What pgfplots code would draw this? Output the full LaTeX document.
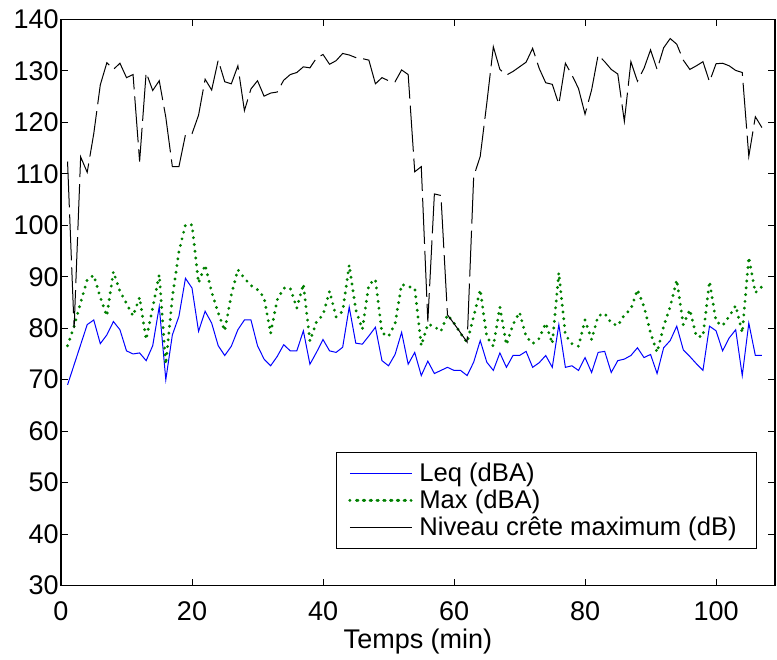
\documentclass[border=0pt]{standalone}
\usepackage{fontspec}
\setmainfont{Liberation Sans}
\usepackage{pgfplots}
\pgfplotsset{compat=1.18}
\usetikzlibrary{calc}

\definecolor{mgreen}{rgb}{0,0.5,0}
\tikzset{
  leqline/.style={draw=blue, line width=0.5pt},
  maxline/.style={draw=mgreen, line width=1.6pt, line cap=round, dash pattern=on 0pt off 3.4pt},
  pkline/.style={draw=black, line width=0.5pt},
}
\pgfplotsset{longimg/.style={legend image code/.code={%
  \path (-4pt,0pt) -- (27pt,0pt);
  \draw[##1] (0pt,0pt) -- (24.5pt,0pt);}}}

\pgfplotstableread{
x leq mx pk
1 69.0 76.6 112.4
2 72.9 80.4 80.0
3 76.8 85.0 113.3
4 80.7 89.4 110.3
5 81.6 90.3 117.8
6 77.0 86.0 127.3
7 78.7 82.4 131.6
8 81.3 91.0 130.3
9 79.7 87.2 131.5
10 75.6 84.8 128.7
11 75.0 82.4 129.3
12 75.2 86.0 112.4
13 73.7 77.8 129.7
14 76.6 84.0 126.2
15 84.2 90.4 128.1
16 70.0 73.0 121.0
17 78.7 86.0 111.4
18 82.3 94.9 111.4
19 89.7 100.1 117.6
20 87.8 100.1 117.8
21 79.4 88.8 121.4
22 83.3 92.3 128.4
23 81.0 87.0 126.3
24 76.6 83.0 132.1
25 74.7 79.5 127.9
26 76.5 86.5 127.5
27 79.7 91.4 131.0
28 81.6 89.7 122.3
29 81.6 88.3 126.5
30 76.6 87.5 128.1
31 74.0 86.0 125.1
32 72.7 79.0 125.7
33 74.5 85.5 125.9
34 76.8 87.8 128.2
35 75.6 87.8 129.3
36 75.6 83.9 129.7
37 79.5 88.6 130.8
38 73.0 77.5 130.6
39 75.3 81.2 132.5
40 77.8 82.6 133.2
41 75.6 87.2 131.3
42 75.3 82.2 132.0
43 76.3 83.3 133.4
44 84.1 92.3 133.1
45 77.1 83.6 132.6
46 76.9 79.8 132.4
47 78.5 88.5 132.1
48 80.2 89.5 127.5
49 73.7 79.1 128.7
50 72.7 78.4 128.1
51 74.9 80.9 127.9
52 79.2 88.5 130.2
53 73.0 88.1 129.3
54 75.3 87.8 110.4
55 70.8 76.6 111.4
56 73.6 80.8 81.3
57 71.2 80.3 106.1
58 71.8 79.4 105.8
59 72.4 82.6 82.6
60 71.8 81.0 80.9
61 71.8 79.0 79.1
62 70.8 77.2 77.3
63 73.4 82.3 109.5
64 77.6 87.5 113.4
65 73.4 78.3 123.7
66 71.8 76.5 134.7
67 75.2 84.1 130.3
68 72.4 76.8 129.2
69 74.7 80.7 129.9
70 74.7 83.1 130.8
71 75.5 78.4 131.7
72 72.4 77.0 134.4
73 73.3 78.0 130.5
74 74.7 81.0 127.7
75 72.4 77.0 127.4
76 80.7 90.8 123.5
77 72.4 78.7 131.5
78 72.7 77.0 129.2
79 71.8 76.5 126.6
80 74.3 81.6 121.6
81 71.4 77.8 126.3
82 75.3 82.4 133.1
83 75.5 82.9 131.8
84 71.4 81.0 130.3
85 73.7 80.5 129.4
86 74.0 82.6 120.2
87 74.7 83.7 131.8
88 76.2 87.5 128.0
89 74.3 84.2 130.5
90 74.9 79.1 134.1
91 71.2 75.3 130.3
92 76.2 80.4 134.5
93 77.6 84.2 136.3
94 80.4 89.4 135.2
95 75.8 80.7 132.1
96 74.5 83.6 130.3
97 73.1 78.4 131.0
98 71.8 78.4 131.8
99 80.4 89.1 127.9
100 79.5 81.3 131.4
101 75.6 80.5 131.5
102 78.1 82.3 131.0
103 79.7 84.4 130.1
104 70.8 79.1 129.7
105 81.0 93.8 113.4
106 74.7 86.9 121.1
107 74.7 88.1 119.0
}\data

\begin{document}
\begin{tikzpicture}[font=\fontsize{13.5}{16}\selectfont]
\begin{axis}[
  scale only axis,
  width=357pt, height=283pt,
  xmin=0, xmax=109, ymin=30, ymax=140,
  xtick={0,20,40,60,80,100},
  ytick={30,40,...,140},
  tick align=inside,
  major tick length=3.5pt,
  axis line style={line width=0.7pt},
  every tick/.style={black, line width=0.5pt},
  /pgf/number format/assume math mode=true,
  tick label style={font=\fontsize{13.5}{16}\selectfont},
  yticklabel style={inner sep=1pt},
  xticklabel style={inner sep=1pt, yshift=-7pt},
  xlabel={Temps (min)},
  xlabel style={font=\fontsize{13.5}{16}\selectfont, yshift=0.5pt},
  legend style={at={(0.975,0.065)}, anchor=south east, line width=0.5pt,
    font=\fontsize{12.8}{15}\selectfont, inner xsep=6pt, inner ysep=3.5pt,
    row sep=0pt, nodes={inner ysep=1.4pt, inner xsep=3pt}},
  legend cell align=left,
  longimg,
]
\addlegendimage{leqline}
\addlegendentry{Leq (dBA)}
\addlegendimage{maxline}
\addlegendentry{Max (dBA)}
\addlegendimage{pkline}
\addlegendentry{Niveau crête maximum (dB)\hspace*{1pt}}
\addplot[leqline, forget plot] table[x=x, y=leq] {\data};
\addplot[maxline, forget plot] table[x=x, y=mx] {\data};
\addplot[pkline, dash pattern=on 23pt off 3.5pt, forget plot] table[x=x, y=pk] {\data};
\end{axis}
\pgfresetboundingbox
\path[use as bounding box] ($(current axis.south west)+(-30.5pt,-37pt)$) rectangle ($(current axis.north east)+(1pt,9.75pt)$);
\end{tikzpicture}
\end{document}
